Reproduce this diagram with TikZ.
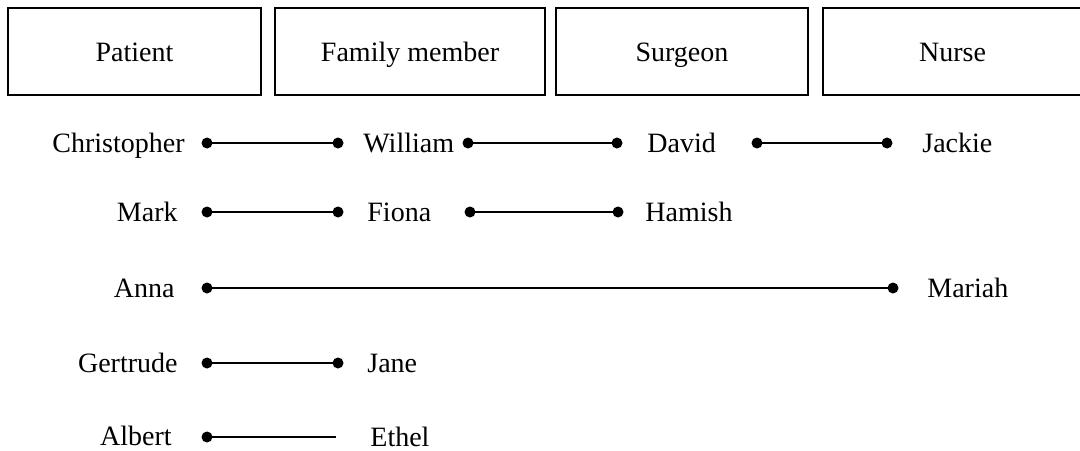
\documentclass[tikz,border=0pt]{standalone}
\usepackage{fontspec}
\setmainfont{Liberation Serif}
\begin{document}
\begin{tikzpicture}[x=0.5pt,y=-0.5pt,
  font=\fontsize{14}{17}\selectfont,
  hbox/.style={draw=black,line width=1pt,inner sep=0pt,minimum height=43.5pt,text height=9.5pt,text depth=0pt},
  dot/.style={circle,fill=black,inner sep=0pt,minimum size=5.5pt},
  lname/.style={anchor=base east,inner sep=0pt},
  rname/.style={anchor=base west,inner sep=0pt},
  link/.style={line width=1.1pt}]
\useasboundingbox (0,0) rectangle (1080,450);
% header boxes
\node[hbox,minimum width=126.5pt] (patient) at (134.5,51.5) {Patient};
\node[hbox,minimum width=135pt] (family) at (410,51.5) {Family member};
\node[hbox,minimum width=126pt] (surgeon) at (682,51.5) {Surgeon};
\node[hbox,minimum width=129.5pt] (nurse) at (952.5,51.5) {Nurse};
% row 1
\node[lname] (christopher) at (185,152) {Christopher};
\node[rname] (william) at (363,152) {William};
\node[rname] (david) at (647,152) {David};
\node[rname] (jackie) at (922,152) {Jackie};
\node[dot] (d1a) at (207,143) {};
\node[dot] (d1b) at (338,143) {};
\node[dot] (d1c) at (468,143) {};
\node[dot] (d1d) at (617,143) {};
\node[dot] (d1e) at (757,143) {};
\node[dot] (d1f) at (887,143) {};
\draw[link] (d1a.center) -- (d1b.center);
\draw[link] (d1c.center) -- (d1d.center);
\draw[link] (d1e.center) -- (d1f.center);
% row 2
\node[lname] (mark) at (178,221) {Mark};
\node[rname] (fiona) at (367,221) {Fiona};
\node[rname] (hamish) at (645,221) {Hamish};
\node[dot] (d2a) at (207,212) {};
\node[dot] (d2b) at (338,212) {};
\node[dot] (d2c) at (470,212) {};
\node[dot] (d2d) at (618,212) {};
\draw[link] (d2a.center) -- (d2b.center);
\draw[link] (d2c.center) -- (d2d.center);
% row 3
\node[lname] (anna) at (175,297) {Anna};
\node[rname] (mariah) at (927,297) {Mariah};
\node[dot] (d3a) at (207,288) {};
\node[dot] (d3b) at (893,288) {};
\draw[link] (d3a.center) -- (d3b.center);
% row 4
\node[lname] (gertrude) at (178,372) {Gertrude};
\node[rname] (jane) at (367,372) {Jane};
\node[dot] (d4a) at (207,363) {};
\node[dot] (d4b) at (338,363) {};
\draw[link] (d4a.center) -- (d4b.center);
% row 5
\node[lname] (albert) at (172,445) {Albert};
\node[rname] (ethel) at (370,446) {Ethel};
\node[dot] (d5a) at (207,437) {};
\coordinate (d5b) at (336,437);
\draw[link] (d5a.center) -- (d5b);
\end{tikzpicture}
\end{document}
